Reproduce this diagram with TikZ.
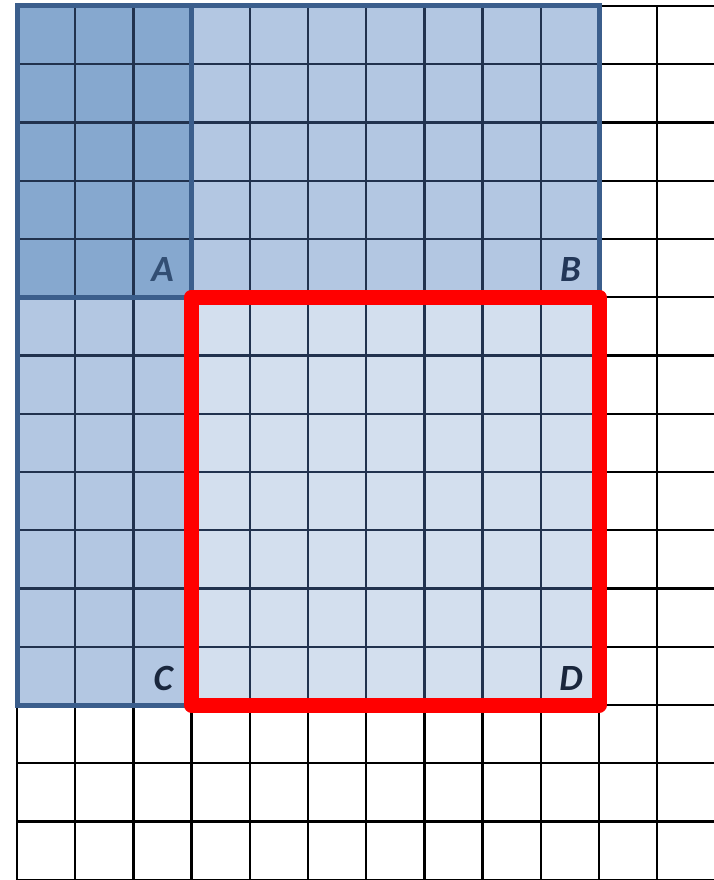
\documentclass[tikz,border=0pt]{standalone}
\usepackage{fontspec}
\setmainfont{Carlito}
\definecolor{afill}{RGB}{134,168,207}
\definecolor{bfill}{RGB}{179,199,226}
\definecolor{dfill}{RGB}{211,223,238}
\definecolor{bborder}{RGB}{59,94,140}
\definecolor{innerline}{RGB}{33,50,78}
\definecolor{labAc}{RGB}{50,78,115}
\definecolor{labBc}{RGB}{35,55,88}
\definecolor{labDc}{RGB}{25,38,60}
\tikzset{
  gridblack/.style={draw=black,line width=2.3pt},
  gridnavy/.style={draw=innerline,line width=2.3pt},
  blueedge/.style={draw=bborder,line width=5pt,line join=miter},
  redbox/.style={draw=red,line width=15pt,line join=round},
  lab/.style={font=\fontsize{37}{40}\selectfont\bfseries\itshape,inner sep=0pt,anchor=base east}
}
\begin{document}
\begin{tikzpicture}[x=1pt,y=-1pt]
\useasboundingbox (0,0) rectangle (714,880);
% black grid everywhere
\foreach \i in {0,...,12} \draw[gridblack] ({17+\i*58.2},6) -- ({17+\i*58.2},880);
\foreach \j in {0,...,15} \draw[gridblack] (17,{6+\j*58.25}) -- (714,{6+\j*58.25});
% fills
\fill[bfill] (17,6) rectangle (599,705);
\fill[afill] (17,6) rectangle (191.6,297);
\fill[dfill] (191.6,297) rectangle (599,705);
% navy grid inside blue area
\begin{scope}
\clip (17,6) rectangle (599,705);
\foreach \i in {0,...,10} \draw[gridnavy] ({17+\i*58.2},6) -- ({17+\i*58.2},705);
\foreach \j in {0,...,12} \draw[gridnavy] (17,{6+\j*58.25}) -- (599,{6+\j*58.25});
\end{scope}
% blue borders
\draw[blueedge] (17,6) rectangle (599,297);
\draw[blueedge] (17,6) rectangle (191.6,705);
\draw[blueedge] (17,6) rectangle (191.6,297);
% red box
\draw[redbox] (191.6,297) rectangle (599,705);
% labels
\node[lab,text=labAc] (labA) at (174,281.5) {A};
\node[lab,text=labBc] (labB) at (581,281.5) {B};
\node[lab,text=labDc] (labC) at (173,690) {C};
\node[lab,text=labDc] (labD) at (583,690) {D};
\end{tikzpicture}
\end{document}
